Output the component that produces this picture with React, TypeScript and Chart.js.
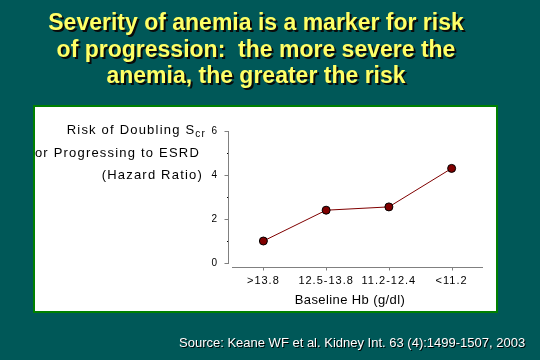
import React, { useEffect, useRef } from "react";
import { Chart, registerables } from "chart.js";

Chart.register(...registerables);

const categories = [">13.8", "12.5-13.8", "11.2-12.4", "<11.2"];
const hazardRatio = [1.0, 2.4, 2.55, 4.3];
const yMin = 0;
const yMax = 6;
const yMajorTicks = [0, 2, 4, 6];
const yMinorTicks = [1, 3, 5];
const titleLines = [
  "Severity of anemia is a marker for risk",
  "of progression:  the more severe the",
  "anemia, the greater the risk",
];
const yTitleLines = ["Risk of Doubling S", "or Progressing to ESRD", "(Hazard Ratio)"];
const yTitleSub = "cr";
const xTitle = "Baseline Hb (g/dl)";
const sourceText = "Source: Keane WF et al. Kidney Int. 63 (4):1499-1507, 2003";

const FONT = '"Liberation Sans", Arial, sans-serif';
const BG = "#005858";

const decorPlugin = {
  id: "decor",
  beforeDraw(chart: any) {
    const ctx = chart.ctx as CanvasRenderingContext2D;
    ctx.save();
    ctx.fillStyle = BG;
    ctx.fillRect(0, 0, chart.width, chart.height);
    ctx.fillStyle = "#ffffff";
    ctx.fillRect(34, 106, 463, 206);
    ctx.strokeStyle = "#008000";
    ctx.lineWidth = 2;
    ctx.strokeRect(34, 106, 463, 206);

    ctx.font = `bold 23px ${FONT}`;
    ctx.textAlign = "center";
    ctx.textBaseline = "alphabetic";
    const baselines = [30, 56.5, 83];
    titleLines.forEach((t, i) => {
      ctx.fillStyle = "#0a0a0a";
      ctx.fillText(t, 258, baselines[i] + 2);
      ctx.fillStyle = "#ffff66";
      ctx.fillText(t, 256, baselines[i]);
    });

    ctx.font = `13px ${FONT}`;
    ctx.textAlign = "left";
    ctx.fillStyle = "#000000";
    ctx.fillText(sourceText, 180, 348);
    ctx.fillStyle = "#ffffff";
    ctx.fillText(sourceText, 179, 347);

    (ctx as any).letterSpacing = "1.2px";
    ctx.fillStyle = "#000000";
    const yBases = [134, 156.5, 178.5];
    const rights = [206, 200, 203];
    ctx.font = `10px ${FONT}`;
    const subW = ctx.measureText(yTitleSub).width;
    ctx.font = `13px ${FONT}`;
    const l1W = ctx.measureText(yTitleLines[0]).width;
    const l1x = rights[0] - subW - l1W;
    ctx.fillText(yTitleLines[0], l1x, yBases[0]);
    ctx.font = `10px ${FONT}`;
    ctx.fillText(yTitleSub, l1x + l1W, yBases[0] + 3);
    ctx.font = `13px ${FONT}`;
    for (let i = 1; i < 3; i++) {
      const w = ctx.measureText(yTitleLines[i]).width;
      ctx.fillText(yTitleLines[i], rights[i] - w, yBases[i]);
    }
    (ctx as any).letterSpacing = "0.4px";
    ctx.textAlign = "center";
    ctx.fillText(xTitle, 350, 304);
    ctx.restore();

    ctx.save();
    (ctx as any).letterSpacing = "1px";
  },
  afterDraw(chart: any) {
    const ctx = chart.ctx as CanvasRenderingContext2D;
    ctx.restore();
    ctx.save();
    (ctx as any).letterSpacing = "0px";
    const xs = chart.scales.x;
    const ys = chart.scales.y;
    const area = chart.chartArea;
    ctx.strokeStyle = "#808080";
    ctx.lineWidth = 1;
    // y axis line, set slightly left of the plot
    const xLine = Math.round(area.left - 4) + 0.5;
    ctx.beginPath();
    ctx.moveTo(xLine, Math.round(ys.getPixelForValue(yMax)));
    ctx.lineTo(xLine, Math.round(ys.getPixelForValue(yMin)) + 1);
    ctx.stroke();
    yMajorTicks.forEach((v) => {
      const py = Math.round(ys.getPixelForValue(v)) + 0.5;
      ctx.beginPath();
      ctx.moveTo(xLine - 4, py);
      ctx.lineTo(xLine, py);
      ctx.stroke();
    });
    ctx.fillStyle = "#000000";
    yMinorTicks.forEach((v) => {
      const py = Math.round(ys.getPixelForValue(v));
      ctx.fillRect(Math.round(xLine) - 2, py, 1, 1);
    });
    // x axis line, set slightly below the plot
    const yLine = Math.round(area.bottom + 4) + 0.5;
    ctx.beginPath();
    ctx.moveTo(area.left, yLine);
    ctx.lineTo(area.right, yLine);
    ctx.stroke();
    for (let i = 0; i < categories.length; i++) {
      const px = Math.round(xs.getPixelForTick(i)) + 0.5;
      ctx.beginPath();
      ctx.moveTo(px, yLine);
      ctx.lineTo(px, yLine + 3);
      ctx.stroke();
    }
    ctx.restore();
  },
};

export default function App() {
  const ref = useRef<HTMLCanvasElement | null>(null);
  useEffect(() => {
    if (!ref.current) return;
    const chart = new Chart(ref.current, {
      type: "line",
      data: {
        labels: categories,
        datasets: [
          {
            data: hazardRatio,
            borderColor: "#800000",
            borderWidth: 1,
            pointRadius: 4,
            pointBackgroundColor: "#800000",
            pointBorderColor: "#000000",
            pointBorderWidth: 1,
            tension: 0,
          },
        ],
      },
      options: {
        responsive: false,
        animation: false,
        devicePixelRatio: 1,
        layout: { padding: { left: 202, right: 57, top: 131, bottom: 57 } },
        plugins: { legend: { display: false }, tooltip: { enabled: false } },
        scales: {
          x: {
            offset: true,
            afterFit: (s: any) => {
              s.height = 40;
            },
            border: { display: false },
            grid: {
              display: true,
              drawOnChartArea: false,
              drawTicks: true,
              tickLength: 6,
              color: "transparent",
            },
            ticks: {
              color: "#000000",
              font: { family: FONT, size: 11 },
              padding: 5,
              maxRotation: 0,
              autoSkip: false,
            },
          },
          y: {
            min: yMin,
            max: yMax,
            afterFit: (s: any) => {
              s.width = 30;
            },
            border: { display: false },
            grid: {
              drawOnChartArea: false,
              drawTicks: true,
              tickLength: 8,
              color: "transparent",
            },
            ticks: {
              stepSize: 1,
              autoSkip: false,
              color: "#000000",
              padding: 6,
              font: { family: FONT, size: 10 },
              callback: (v: any) => (Number(v) % 2 === 0 ? String(v) : ""),
            },
          },
        },
      },
      plugins: [decorPlugin],
    });
    return () => chart.destroy();
  }, []);
  return (
    <div style={{ position: "fixed", left: 0, top: 0, width: 540, height: 360 }}>
      <canvas ref={ref} width={540} height={360} style={{ display: "block" }} />
    </div>
  );
}
